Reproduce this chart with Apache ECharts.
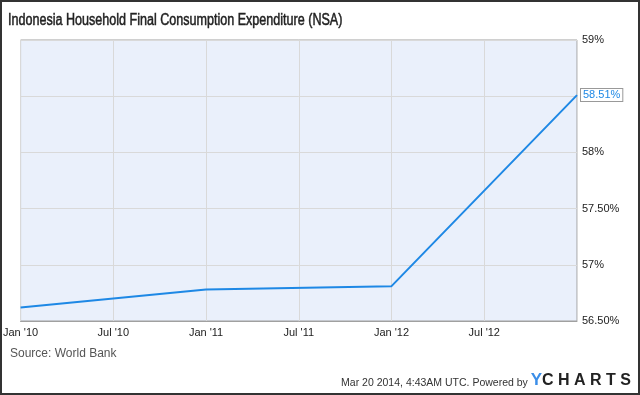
<!DOCTYPE html>
<html><head><meta charset="utf-8">
<script src="https://cdn.jsdelivr.net/npm/echarts@6/dist/echarts.min.js"></script>
<style>html,body{margin:0;padding:0;background:#fff}#c{width:640px;height:395px}</style>
</head><body><div id="c"></div>
<script>
// months since Jan 2010
const months = [0, 12, 24, 36];
const values = [56.62, 56.78, 56.81, 58.51];
const tickLabels = ["Jan '10", "Jul '10", "Jan '11", "Jul '11", "Jan '12", "Jul '12", ""];
const yTicks = [56.5, 57, 57.5, 58, 58.5, 59];
const yTickText = {"56.5": "56.50%", "57": "57%", "57.5": "57.50%", "58": "58%", "58.5": "", "59": "59%"};
const titleText = 'Indonesia Household Final Consumption Expenditure (NSA)';

const chart = echarts.init(document.getElementById('c'), null, {renderer: 'canvas'});
const font = 'Liberation Sans, Arial, sans-serif';
chart.setOption({
  animation: false,
  backgroundColor: '#fff',
  grid: {left: 19, right: 63, top: 40, bottom: 74, show: true, backgroundColor: '#eaf0fb', borderColor: '#a0a0a0', borderWidth: 1},
  xAxis: {
    type: 'value', min: 0, max: 36, interval: 6,
    axisLine: {show: true, lineStyle: {color: '#a0a0a0'}},
    axisTick: {show: false},
    splitLine: {show: true, lineStyle: {color: '#d9d9d9'}},
    axisLabel: {
      fontFamily: font, fontSize: 11, color: '#222', margin: 6,
      formatter: v => tickLabels[Math.round(v / 6)] || ''
    }
  },
  yAxis: {
    type: 'value', position: 'right', min: 56.5, max: 59, interval: 0.5,
    axisLine: {show: false}, axisTick: {show: false},
    splitLine: {show: true, lineStyle: {color: '#d9d9d9'}},
    axisLabel: {
      fontFamily: font, fontSize: 11, color: '#222', margin: 5,
      formatter: v => { const k = String(Math.round(v * 100) / 100); return yTickText[k] !== undefined ? yTickText[k] : ''; }
    }
  },
  series: [{
    type: 'line',
    data: months.map((m, i) => [m, values[i]]),
    symbol: 'none',
    lineStyle: {color: '#1e88e5', width: 2},
    endLabel: {
      show: true, distance: 4,
      formatter: p => p.value[1].toFixed(2) + '%',
      fontFamily: font, fontSize: 11, color: '#1e88e5',
      backgroundColor: '#fff', borderColor: '#999', borderWidth: 1,
      padding: [1, 2, 0, 2]
    }
  }],
  graphic: [
    {type: 'rect', shape: {x: 1, y: 1, width: 638, height: 393}, style: {fill: 'none', stroke: '#333', lineWidth: 2}, z: 100},
    {type: 'text', x: 8, y: 21, scaleX: 0.785, style: {text: titleText, font: '16px ' + font, fill: '#222', stroke: '#222', lineWidth: 0.5, verticalAlign: 'middle'}},
    {type: 'text', left: 10, top: 348, style: {text: 'Source: World Bank', font: '12px ' + font, fill: '#555'}},
    {type: 'text', right: 9, top: 372, style: {
      rich: {
        a: {font: '10.5px ' + font, fill: '#333', verticalAlign: 'bottom'},
        y: {font: 'bold 17px ' + font, fill: '#3b8ee8'},
        c: {font: 'bold 16px ' + font, fill: '#222'}
      },
      text: '{a|Mar 20 2014, 4:43AM UTC. Powered by }{y|Y}{c|C H A R T S}'
    }}
  ]
});
</script></body></html>
